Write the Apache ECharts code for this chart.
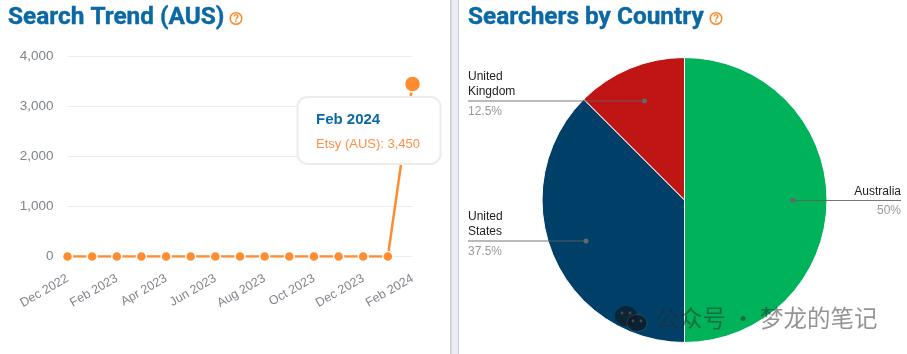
<!DOCTYPE html>
<html>
<head>
<meta charset="utf-8">
<style>
  html, body { margin: 0; padding: 0; background: #fff; }
  #chart { width: 907px; height: 354px; }
</style>
<script src="https://cdn.jsdelivr.net/npm/echarts@6/dist/echarts.min.js"></script>
</head>
<body>
<div id="chart"></div>
<script>
// --- data ---
var months = ['Dec 2022', 'Jan 2023', 'Feb 2023', 'Mar 2023', 'Apr 2023', 'May 2023', 'Jun 2023', 'Jul 2023',
  'Aug 2023', 'Sep 2023', 'Oct 2023', 'Nov 2023', 'Dec 2023', 'Jan 2024', 'Feb 2024'];
var searches = [0, 0, 0, 0, 0, 0, 0, 0, 0, 0, 0, 0, 0, 0, 3450];
var countries = ['Australia', 'United\nStates', 'United\nKingdom'];
var shares = [50, 37.5, 12.5];
var countryColors = ['#00b259', '#004068', '#c01515'];

var blue = '#0a69a5';
var orange = '#ff8c2e';
var titleFont = 'Roboto';
var bodyFont = '"Liberation Sans"';

// label + leader line spot for each slice: text edge, line y, dot x
var leaders = [
  { x: 901, y: 200.5, dot: 793, align: 'right' },
  { x: 468, y: 241, dot: 586, align: 'left' },
  { x: 468, y: 101, dot: 644.5, align: 'left' }
];

function helpIcon(x, y) {
  return [
    { type: 'circle', shape: { cx: x, cy: y, r: 5.8 }, style: { fill: 'none', stroke: orange, lineWidth: 1.5 } },
    { type: 'text', style: { x: x, y: y + 0.5, text: '?', fill: orange, font: 'bold 10px ' + bodyFont, align: 'center', verticalAlign: 'middle' } }
  ];
}

function title(x, text) {
  return { type: 'text', style: { x: x, y: 17.5, text: text, fill: blue, stroke: blue, lineWidth: 0.4, font: 'bold 24.4px ' + titleFont, verticalAlign: 'middle' } };
}

function eye(x, y) {
  return { type: 'circle', z: 62, shape: { cx: x, cy: y, r: 1.4 }, style: { fill: 'rgba(70,90,105,0.8)' } };
}

var chart = echarts.init(document.getElementById('chart'), null, { renderer: 'canvas' });

var graphics = [
  // divider between panels
  { type: 'rect', shape: { x: 450, y: 0, width: 9, height: 354 }, style: { fill: '#e9ecf0' } },
  { type: 'rect', shape: { x: 450, y: 0, width: 1.5, height: 354 }, style: { fill: '#c9ccd0' } },
  { type: 'rect', shape: { x: 458, y: 0, width: 1, height: 354 }, style: { fill: '#c9ccd0' } },
  title(8, 'Search Trend (AUS)'),
  title(468, 'Searchers by Country'),
  // tooltip box
  { type: 'rect', z: 50, shape: { x: 297.5, y: 97, width: 143, height: 67, r: 10 }, style: { fill: '#fff', stroke: '#ececec', lineWidth: 2 } },
  { type: 'text', z: 51, style: { x: 316, y: 119.5, text: 'Feb 2024', fill: blue, font: 'bold 15px ' + bodyFont, verticalAlign: 'middle' } },
  { type: 'text', z: 51, style: { x: 316, y: 144.5, text: 'Etsy (AUS): 3,450', fill: '#ff8f4a', font: '13px ' + bodyFont, verticalAlign: 'middle' } },
  // watermark
  { type: 'ellipse', z: 60, shape: { cx: 626, cy: 316, rx: 11, ry: 10 }, style: { fill: 'rgba(15,25,35,0.72)' } },
  { type: 'ellipse', z: 61, shape: { cx: 637, cy: 323, rx: 10, ry: 8.5 }, style: { fill: 'rgba(15,25,35,0.78)', stroke: 'rgba(255,255,255,0.12)', lineWidth: 1 } },
  eye(622, 313), eye(630, 313), eye(633, 321), eye(641, 321),
  { type: 'text', z: 60, style: { x: 655.5, y: 318, text: '公众号 · 梦龙的笔记', fill: 'rgba(40,40,40,0.5)', font: '23.5px "Noto Sans CJK SC"', verticalAlign: 'middle' } }
].concat(helpIcon(236, 18.5), helpIcon(716, 18.5));

// leader lines run into the slices and end on a dot
leaders.forEach(function(l) {
  graphics.push({ type: 'line', z: 40, shape: { x1: l.x, y1: l.y, x2: l.dot, y2: l.y }, style: { stroke: 'rgba(95,95,95,0.85)', lineWidth: 1 } });
  graphics.push({ type: 'circle', z: 40, shape: { cx: l.dot, cy: l.y, r: 2.5 }, style: { fill: '#666' } });
});

chart.setOption({
  animation: false,
  backgroundColor: '#fff',
  graphic: graphics,
  grid: { left: 67.5, top: 56.5, width: 345, height: 200 },
  xAxis: {
    type: 'category',
    data: months,
    boundaryGap: false,
    axisLine: { show: false },
    axisTick: { show: false },
    axisLabel: { interval: 1, rotate: 30, color: '#7f8389', fontSize: 12.5, fontFamily: bodyFont, margin: 21, showMaxLabel: true }
  },
  yAxis: {
    type: 'value',
    min: 0,
    max: 4000,
    interval: 1000,
    axisLine: { show: false },
    axisTick: { show: false },
    axisLabel: {
      color: '#7f8389', fontSize: 13.5, fontFamily: bodyFont, margin: 14, padding: [2, 0, 0, 0],
      formatter: function(v) { return v.toLocaleString('en-US'); }
    },
    splitLine: { lineStyle: { color: '#ececec', width: 1 } }
  },
  series: [
    {
      type: 'line',
      data: searches.map(function(v, i) {
        return i === searches.length - 1 ? { value: v, symbolSize: 16 } : v;
      }),
      symbol: 'circle',
      symbolSize: 10,
      lineStyle: { color: orange, width: 2.5 },
      itemStyle: { color: orange, borderColor: '#fff', borderWidth: 1.5 }
    },
    {
      type: 'pie',
      center: [684.5, 200],
      radius: [0, 142.5],
      startAngle: 90,
      clockwise: true,
      data: countries.map(function(c, i) {
        return { name: c, value: shares[i], itemStyle: { color: countryColors[i] } };
      }),
      itemStyle: { borderColor: '#fff', borderWidth: 1 },
      label: {
        position: 'outside',
        overflow: 'none',
        formatter: function(p) { return '{n|' + p.name.split('\n').join('}\n{n|') + '}\n{p|' + shares[p.dataIndex] + '%}'; },
        rich: {
          n: { color: '#222', fontSize: 12, lineHeight: 15, fontFamily: bodyFont },
          p: { color: '#999', fontSize: 12, lineHeight: 24, fontFamily: bodyFont }
        }
      },
      labelLine: { show: false },
      labelLayout: function(p) {
        var l = leaders[p.dataIndex];
        return {
          x: l.x,
          y: l.y + 15 - p.labelRect.height,
          align: l.align,
          verticalAlign: 'top'
        };
      }
    }
  ]
});
window.addEventListener('resize', function() { chart.resize(); });
</script>
</body>
</html>
